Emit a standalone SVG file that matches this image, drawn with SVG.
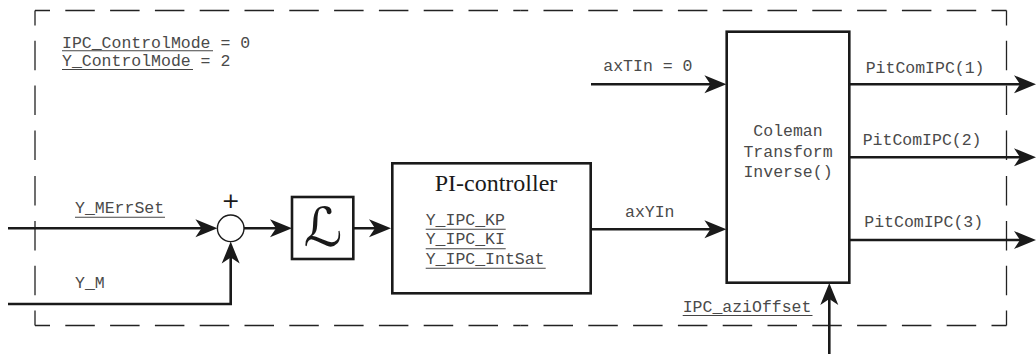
<svg xmlns="http://www.w3.org/2000/svg" width="1036" height="354" viewBox="0 0 1036 354">
<defs>
<style>
.bd{stroke:#222;stroke-width:1.3;fill:none;stroke-dasharray:29.5 15.3;stroke-dashoffset:14.5}
.box{fill:#fff;stroke:#1a1a1a;stroke-width:2.6}
.cn{fill:none;stroke:#1a1a1a;stroke-width:2.6;marker-end:url(#arr)}
.m{font-family:"Liberation Mono","Courier New",monospace;font-size:16.5px;fill:#4a4a4a}
.ul{stroke:#444;stroke-width:1.1}
.s{font-family:"Liberation Serif","Times New Roman",serif;fill:#1a1a1a}
</style>
<marker id="arr" viewBox="-24 -10 26 20" refX="-5" refY="0" markerWidth="26" markerHeight="20" markerUnits="userSpaceOnUse" orient="auto">
<path d="M0,0 L-22,-9 L-16,0 L-22,9 Z" fill="#1a1a1a"/>
</marker>
</defs>
<rect width="1036" height="354" fill="#fff"/>
<g id="border">
<path class="bd" d="M35,10.5 H520.75"/>
<path class="bd" d="M1006.5,10.5 H520.75"/>
<path class="bd" d="M35,325.5 H520.75"/>
<path class="bd" d="M1006.5,325.5 H520.75"/>
<path class="bd" d="M35,10.5 V168"/>
<path class="bd" d="M35,325.5 V168"/>
<path class="bd" d="M1006.5,10.5 V168"/>
<path class="bd" d="M1006.5,325.5 V168"/>
</g>
<g id="modes">
<text class="m" x="62" y="47.5">IPC_ControlMode = 0</text>
<line class="ul" x1="62" y1="50.8" x2="213" y2="50.8"/>
<text class="m" x="62" y="65.7">Y_ControlMode = 2</text>
<line class="ul" x1="62" y1="69.5" x2="193" y2="69.5"/>
</g>
<g id="connectors">
<path class="cn" d="M8,228.3 H212.4"/>
<path class="cn" d="M8,304 H230.7 V246.6"/>
<path class="cn" d="M244,228.3 H287"/>
<path class="cn" d="M353.3,228.3 H386"/>
<path class="cn" d="M591,229.3 H721.4"/>
<path class="cn" d="M591,84.3 H721.4"/>
<path class="cn" d="M849.3,84.3 H1031"/>
<path class="cn" d="M849.3,157.3 H1031"/>
<path class="cn" d="M849.3,240 H1031"/>
<path class="cn" d="M829.3,354 V288"/>
</g>
<g id="labels">
<text class="m" x="75" y="212.7">Y_MErrSet</text>
<line class="ul" x1="75" y1="217.3" x2="165" y2="217.3"/>
<text class="m" x="75" y="288.3">Y_M</text>
<text class="m" x="625" y="216.7">axYIn</text>
<text class="m" x="603.3" y="71">axTIn = 0</text>
<text class="m" x="865.7" y="73.3">PitComIPC(1)</text>
<text class="m" x="862.7" y="145">PitComIPC(2)</text>
<text class="m" x="864.3" y="226.7">PitComIPC(3)</text>
<text class="m" x="682.7" y="311.7">IPC_aziOffset</text>
<line class="ul" x1="682.7" y1="315.5" x2="812.5" y2="315.5"/>
</g>
<g id="sum">
<circle cx="230.7" cy="228.3" r="13.3" fill="#fff" stroke="#1a1a1a" stroke-width="1.4"/>
<text x="230.7" y="207.5" font-family="DejaVu Sans,sans-serif" font-size="22" text-anchor="middle" fill="#1a1a1a">+</text>
</g>
<g id="laplace">
<rect class="box" x="292" y="197" width="61.3" height="62"/>
<text x="323" y="246" font-family="DejaVu Sans,sans-serif" font-size="54" text-anchor="middle" fill="#1a1a1a">ℒ</text>
</g>
<g id="pi">
<rect class="box" x="392.3" y="163.3" width="198.4" height="130"/>
<text class="s" x="496" y="190.7" font-size="24" text-anchor="middle">PI-controller</text>
<text class="m" x="425.7" y="225">Y_IPC_KP</text>
<line class="ul" x1="425.7" y1="229.3" x2="505.7" y2="229.3"/>
<text class="m" x="425.7" y="244.3">Y_IPC_KI</text>
<line class="ul" x1="425.7" y1="248.8" x2="505.7" y2="248.8"/>
<text class="m" x="425.7" y="263.5">Y_IPC_IntSat</text>
<line class="ul" x1="425.7" y1="268.3" x2="545.7" y2="268.3"/>
</g>
<g id="coleman">
<rect class="box" x="726.7" y="31.7" width="122.6" height="251"/>
<text class="m" x="788" y="136" text-anchor="middle">Coleman</text>
<text class="m" x="788" y="156.7" text-anchor="middle">Transform</text>
<text class="m" x="788" y="176.7" text-anchor="middle">Inverse()</text>
</g>
</svg>
